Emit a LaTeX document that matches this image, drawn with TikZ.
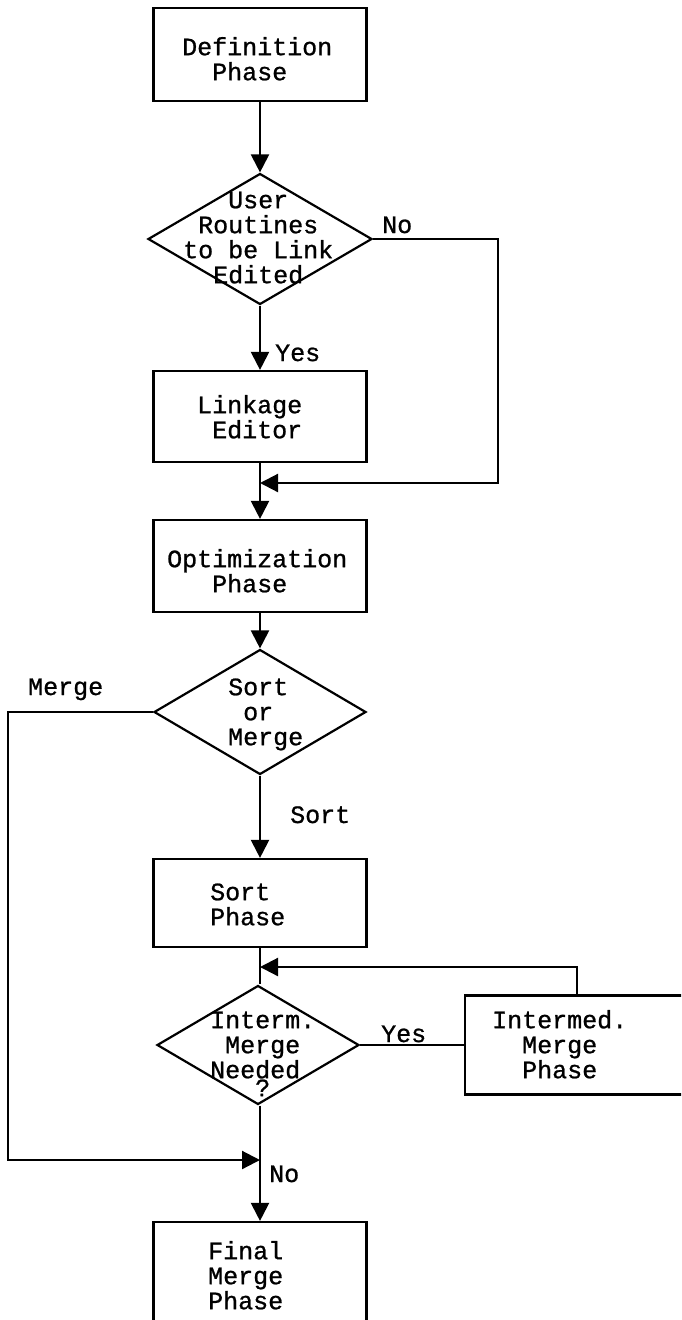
\documentclass[tikz,border=0pt]{standalone}
\usepackage{fontspec}
\setmainfont{Liberation Mono}[RawFeature={embolden=0.9}]
\usetikzlibrary{shapes.geometric,arrows.meta}
\newcommand\fs{\rule{0pt}{20pt}}
\begin{document}
\begin{tikzpicture}[x=1pt,y=-1pt,
  box/.style={draw, line width=2.2pt, rectangle, minimum width=213pt, inner sep=0pt},
  dia/.style={draw, line width=2.2pt, diamond, inner sep=0pt},
  txt/.style={anchor=north west, inner sep=0pt, align=left, font=\fontsize{25}{25}\selectfont},
  lbl/.style={anchor=base west, inner sep=0pt, font=\fontsize{25}{25}\selectfont},
  conn/.style={line width=2.2pt},
  arr/.style={line width=2.2pt, -{Triangle[width=18pt,length=18pt]}}]
\useasboundingbox (0,0) rectangle (681,1320);
\clip (0,0) rectangle (681,1320);
\fill[white] (0,0) rectangle (681,1320);

% shapes
\node[box, minimum height=93pt] (def) at (260,54.5) {};
\node[dia, minimum width=224pt, minimum height=131pt] (d1) at (260,239) {};
\node[box, minimum height=91pt] (link) at (260,416.5) {};
\node[box, minimum height=92pt] (opt) at (260,566) {};
\node[dia, minimum width=212pt, minimum height=125pt] (d2) at (260,712) {};
\node[box, minimum height=88pt] (sortp) at (260,903) {};
\node[dia, minimum width=202pt, minimum height=119pt] (d3) at (258,1045) {};
\node[box, minimum width=235pt, minimum height=99pt] (im) at (582.5,1045) {};
\node[box, minimum height=118pt] (final) at (260,1281) {};

% texts
\node[txt] (t-def) at (182,35) {\fs Definition\\\phantom{xx}Phase};
\node[txt] (t-d1) at (183,188) {\fs\phantom{xxx}User\\\phantom{x}Routines\\to be Link\\\phantom{xx}Edited};
\node[txt] (t-link) at (197,393) {\fs Linkage\\\phantom{x}Editor};
\node[txt] (t-opt) at (167,547) {\fs Optimization\\\phantom{xxx}Phase};
\node[txt] (t-d2) at (228,675) {\fs Sort\\\phantom{x}or\\Merge};
\node[txt] (t-sortp) at (210,880) {\fs Sort\\Phase};
\node[txt] (t-d3) at (210,1008) {\fs Interm.\\\phantom{x}Merge\\Needed\\[-7pt]\phantom{xxx}?};
\node[txt] (t-im) at (492,1008) {\fs Intermed.\\\phantom{xx}Merge\\\phantom{xx}Phase};
\node[txt] (t-final) at (208,1239) {\fs Final\\Merge\\Phase};

% connector labels
\node[lbl] (l-no1) at (382,233) {No};
\node[lbl] (l-yes1) at (275,361) {Yes};
\node[lbl] (l-merge) at (28,695) {Merge};
\node[lbl] (l-sort) at (290,823) {Sort};
\node[lbl] (l-yes2) at (381,1042) {Yes};
\node[lbl] (l-no2) at (269,1182) {No};

% junction coordinates
\coordinate (c1) at (498,483);
\coordinate (j1) at (260,483);
\coordinate (c2) at (8,1160);
\coordinate (j2) at (260,1160);
\coordinate (c3) at (577,967);
\coordinate (j3) at (260,967);

% connectors
\draw[arr] (def) -- (d1);
\draw[arr] (d1) -- (link);
\draw[arr] (d1.east) -| (c1) -- (j1);
\draw[arr] (link) -- (opt);
\draw[arr] (opt) -- (d2);
\draw[arr] (d2) -- (sortp);
\draw[arr] (d2.west) -| (c2) -- (j2);
\draw[conn] (sortp.south) -- (sortp.south |- d3.north);
\draw[conn, line width=1.6pt] (d3.east) -- (im.west);
\draw[arr] (im.north -| c3) -- (c3) -- (j3);
\draw[arr] (d3.south -| final.north) -- (final.north);
\end{tikzpicture}
\end{document}
